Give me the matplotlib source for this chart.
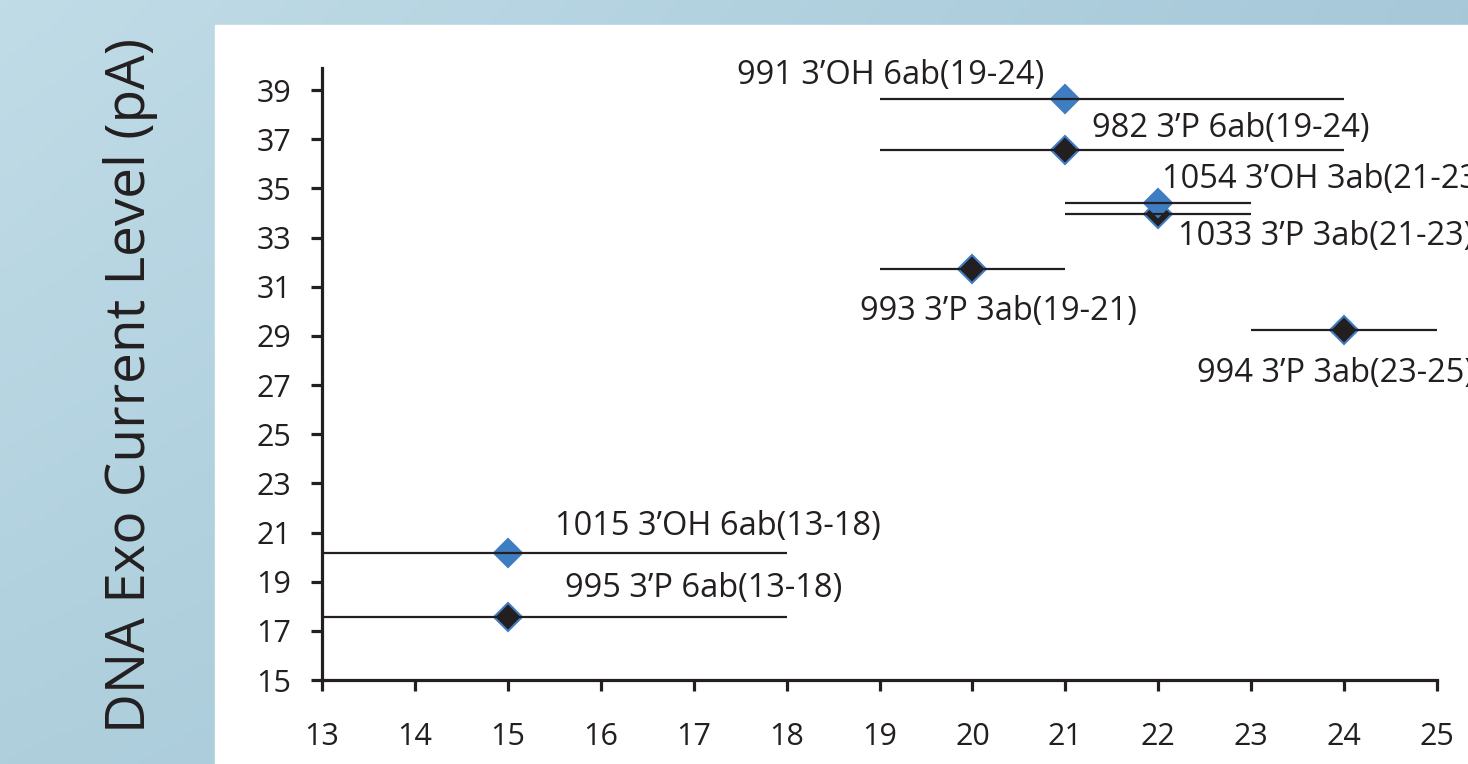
import numpy as np
import matplotlib
matplotlib.use("Agg")
import matplotlib.pyplot as plt
from matplotlib.patches import Rectangle

plt.rcParams['font.family'] = ['Open Sans', 'DejaVu Sans']

# ---- data ----
labels = ["991 3\u2019OH 6ab(19-24)", "982 3\u2019P 6ab(19-24)",
          "1054 3\u2019OH 3ab(21-23)", "1033 3\u2019P 3ab(21-23)",
          "993 3\u2019P 3ab(19-21)", "994 3\u2019P 3ab(23-25)",
          "1015 3\u2019OH 6ab(13-18)", "995 3\u2019P 6ab(13-18)"]
x_center = [21, 21, 22, 22, 20, 24, 15, 15]
x_low = [19, 19, 21, 21, 19, 23, 13, 13]
x_high = [24, 24, 23, 23, 21, 25, 18, 18]
current = [38.64, 36.56, 34.40, 33.96, 31.72, 29.24, 20.17, 17.56]
end_type = ["OH", "P", "OH", "P", "P", "P", "OH", "P"]
x_ticks = list(range(13, 26))
y_ticks = list(range(15, 40, 2))

# label anchor positions (data coords, left/baseline)
label_pos = [(17.47, 39.25), (21.29, 37.09), (22.04, 35.02), (22.21, 32.70),
             (18.79, 29.65), (22.42, 27.12), (15.51, 20.90), (15.62, 18.38)]

W, H = 1468, 764
fig = plt.figure(figsize=(W / 100, H / 100), dpi=100)

# background gradient
bg = fig.add_axes([0, 0, 1, 1], zorder=-10)
tl = np.array(matplotlib.colors.to_rgb('#c0dce7'))
tr = np.array(matplotlib.colors.to_rgb('#a6c8d9'))
bl = np.array(matplotlib.colors.to_rgb('#afcfdd'))
br = np.array(matplotlib.colors.to_rgb('#a0c4d5'))
u = np.linspace(0, 1, 200)[None, :, None]
v = np.linspace(0, 1, 100)[:, None, None]
img = (1 - v) * ((1 - u) * tl + u * tr) + v * ((1 - u) * bl + u * br)
bg.imshow(img, aspect='auto', extent=[0, 1, 0, 1], origin='upper')
bg.add_patch(Rectangle((215 / W, 0), 1, 1 - 25 / H, color='white', zorder=5))
bg.set_xlim(0, 1)
bg.set_ylim(0, 1)
bg.axis('off')

ax = fig.add_axes([322 / W, 1 - 680 / H, (1437 - 322) / W, (680 - 68) / H])
ax.set_xlim(13, 25)
ax.set_ylim(15, 39.9)
ax.patch.set_alpha(0)

blue = '#3f7dc2'
dark = '#231f20'
for i in range(len(labels)):
    fc = blue if end_type[i] == "OH" else dark
    z = 4 if end_type[i] == "OH" else 3
    ax.plot([x_center[i]], [current[i]], marker='D', ms=14.5, mfc=fc,
            mec=blue, mew=1.5, ls='none', zorder=z, clip_on=False)
    ax.hlines(current[i], x_low[i], x_high[i], color=dark, lw=1.6, zorder=6,
              clip_on=False)
    lx, ly = label_pos[i]
    ax.text(lx, ly, labels[i], ha='left', va='baseline', fontsize=23.5,
            color=dark, clip_on=False)

for s in ['top', 'right']:
    ax.spines[s].set_visible(False)
for s in ['left', 'bottom']:
    ax.spines[s].set_linewidth(2.3)
    ax.spines[s].set_color(dark)
ax.set_xticks(x_ticks)
ax.set_yticks(y_ticks)
ax.tick_params(axis='both', direction='out', length=8, width=2.3, color=dark,
               labelsize=22, labelcolor=dark)
ax.tick_params(axis='x', pad=22)
ax.tick_params(axis='y', pad=14)

fig.text(145 / W, 1 - 38 / H, "DNA Exo Current Level (pA)", rotation=90,
         rotation_mode='anchor', ha='right', va='baseline', fontsize=39.5,
         color=dark)

fig.savefig('out.png', dpi=100)
